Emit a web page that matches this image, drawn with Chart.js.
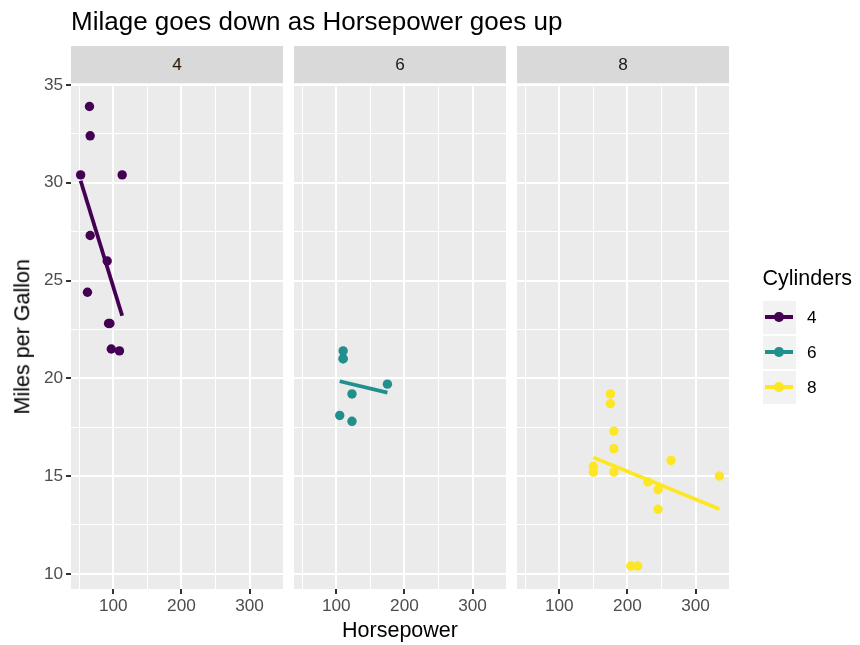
<!DOCTYPE html>
<html>
<head>
<meta charset="utf-8">
<script src="https://cdn.jsdelivr.net/npm/chart.js@4.4.0/dist/chart.umd.min.js"></script>
<style>
  body { margin: 0; background: #fff; font-family: 'Liberation Sans', Arial, sans-serif; }
  #wrap { position: relative; width: 860px; height: 645px; overflow: hidden; }
  #wrap canvas { position: absolute; left: 0; top: 0; }
  .txt { position: absolute; white-space: nowrap; color: #000; }
  .strip { position: absolute; top: 45.5px; height: 37px; background: #D9D9D9; color: #1A1A1A;
           font-size: 17.2px; display: flex; align-items: center; justify-content: center; }
  .key { position: absolute; left: 762.5px; width: 33px; height: 33px; background: #F2F2F2; }
  .key .ln { position: absolute; left: 2.5px; width: 28px; top: 14.5px; height: 4px; }
  .key .dot { position: absolute; left: 11.8px; top: 11.8px; width: 9.4px; height: 9.4px; border-radius: 50%; }
  .klab { position: absolute; left: 807px; height: 33px; font-size: 17.2px; display: flex; align-items: center; }
</style>
</head>
<body>
<div id="wrap">
  <canvas id="p4" width="860" height="645"></canvas>
  <canvas id="p6" width="860" height="645"></canvas>
  <canvas id="p8" width="860" height="645"></canvas>

  <div class="txt" style="left:71px; top:8px; font-size:26px; line-height:26px;">Milage goes down as Horsepower goes up</div>

  <div class="strip" style="left:71px; width:212px;">4</div>
  <div class="strip" style="left:294px; width:212px;">6</div>
  <div class="strip" style="left:517px; width:212px;">8</div>

  <div class="txt" style="left:71px; width:658px; text-align:center; top:620px; font-size:21.5px; line-height:21.5px;">Horsepower</div>
  <div class="txt" style="left:-230.5px; width:506px; text-align:center; top:325.5px; font-size:21.5px; line-height:21.5px; transform:rotate(-90deg);">Miles per Gallon</div>

  <div class="txt" style="left:762.5px; top:268px; font-size:21.5px; line-height:21.5px;">Cylinders</div>
  <div id="legend"></div>
</div>

<script>
// mtcars, split by cylinder count
const hp4 = [93, 62, 95, 66, 52, 65, 97, 66, 91, 113, 109];
const mpg4 = [22.8, 24.4, 22.8, 32.4, 30.4, 33.9, 21.5, 27.3, 26.0, 30.4, 21.4];

const hp6 = [110, 110, 110, 105, 123, 123, 175];
const mpg6 = [21.0, 21.0, 21.4, 18.1, 19.2, 17.8, 19.7];

const hp8 = [175, 245, 180, 180, 180, 205, 215, 230, 150, 150, 245, 175, 264, 335];
const mpg8 = [18.7, 14.3, 16.4, 17.3, 15.2, 10.4, 10.4, 14.7, 15.5, 15.2, 13.3, 19.2, 15.8, 15.0];

// fitted line ends (lm per group)
const fitHp4 = [52, 113];
const fitMpg4 = [30.1, 23.2];
const fitHp6 = [105, 175];
const fitMpg6 = [19.85, 19.27];
const fitHp8 = [150, 335];
const fitMpg8 = [15.95, 13.32];

const cylinders = ['4', '6', '8'];
const colours = ['#440154', '#21908C', '#FDE725'];

// ticks: every grid line, and the ones carrying a label
const xGrid = [50, 100, 150, 200, 250, 300];
const xLabels = [100, 200, 300];
const yGrid = [10, 12.5, 15, 17.5, 20, 22.5, 25, 27.5, 30, 32.5, 35];
const yLabels = [10, 15, 20, 25, 30, 35];

const X_MIN = 37.85, X_MAX = 349.15;
const Y_MIN = 9.225, Y_MAX = 35.075;

const FONT = "'Liberation Sans', Arial, sans-serif";

// grey panel background
const panelBg = {
  id: 'panelBg',
  beforeDraw(chart) {
    const a = chart.chartArea;
    const ctx = chart.ctx;
    ctx.save();
    ctx.fillStyle = '#EBEBEB';
    ctx.fillRect(a.left, a.top, a.right - a.left, a.bottom - a.top);
    ctx.restore();
  }
};

const toPoints = (xs, ys) => xs.map((x, i) => ({ x: x, y: ys[i] }));

function makePanel(id, hp, mpg, fitHp, fitMpg, colour, left, right, showY) {
  const yW = showY ? 40 : 0;
  const xH = 40;
  return new Chart(document.getElementById(id), {
    type: 'scatter',
    data: {
      datasets: [
        {
          data: toPoints(fitHp, fitMpg),
          showLine: true,
          borderColor: colour,
          borderWidth: 3.8,
          borderCapStyle: 'butt',
          pointRadius: 0
        },
        {
          data: toPoints(hp, mpg),
          backgroundColor: colour,
          borderWidth: 0,
          pointRadius: 4.7
        }
      ]
    },
    options: {
      responsive: false,
      animation: false,
      events: [],
      layout: { padding: { left: left - yW, right: 860 - right, top: 83.5, bottom: 645 - 589 - xH } },
      plugins: { legend: { display: false }, tooltip: { enabled: false } },
      scales: {
        x: {
          type: 'linear',
          min: X_MIN,
          max: X_MAX,
          afterBuildTicks: s => { s.ticks = xGrid.map(v => ({ value: v })); },
          afterFit: s => { s.height = xH; },
          border: { display: false },
          grid: {
            color: '#FFFFFF',
            lineWidth: c => (xLabels.includes(c.tick && c.tick.value) ? 2 : 1),
            tickColor: c => (xLabels.includes(c.tick && c.tick.value) ? '#333333' : 'rgba(0,0,0,0)'),
            tickLength: 5,
            tickWidth: 2
          },
          ticks: {
            autoSkip: false,
            maxRotation: 0,
            padding: 2,
            color: '#4D4D4D',
            font: { family: FONT, size: 17.2 },
            callback: v => (xLabels.includes(v) ? String(v) : '')
          }
        },
        y: {
          type: 'linear',
          min: Y_MIN,
          max: Y_MAX,
          afterBuildTicks: s => { s.ticks = yGrid.map(v => ({ value: v })); },
          afterFit: s => { s.width = yW; },
          border: { display: false },
          grid: {
            color: '#FFFFFF',
            lineWidth: c => (yLabels.includes(c.tick && c.tick.value) ? 2 : 1),
            tickColor: c => (yLabels.includes(c.tick && c.tick.value) ? '#333333' : 'rgba(0,0,0,0)'),
            drawTicks: showY,
            tickLength: 5,
            tickWidth: 2
          },
          ticks: {
            display: showY,
            autoSkip: false,
            padding: 3,
            color: '#4D4D4D',
            font: { family: FONT, size: 17.2 },
            callback: v => (yLabels.includes(v) ? String(v) : '')
          }
        }
      }
    },
    plugins: [panelBg]
  });
}

makePanel('p4', hp4, mpg4, fitHp4, fitMpg4, colours[0], 71, 283, true);
makePanel('p6', hp6, mpg6, fitHp6, fitMpg6, colours[1], 294, 506, false);
makePanel('p8', hp8, mpg8, fitHp8, fitMpg8, colours[2], 517, 729, false);

// legend keys: line with a point on a light grey tile
const legend = document.getElementById('legend');
const keyTops = [300.5, 335.5, 370.5];
cylinders.forEach((c, i) => {
  const key = document.createElement('div');
  key.className = 'key';
  key.style.top = keyTops[i] + 'px';
  key.innerHTML = '<div class="ln" style="background:' + colours[i] + '"></div>' +
                  '<div class="dot" style="background:' + colours[i] + '"></div>';
  legend.appendChild(key);
  const lab = document.createElement('div');
  lab.className = 'klab';
  lab.style.top = keyTops[i] + 'px';
  lab.textContent = c;
  legend.appendChild(lab);
});
</script>
</body>
</html>
